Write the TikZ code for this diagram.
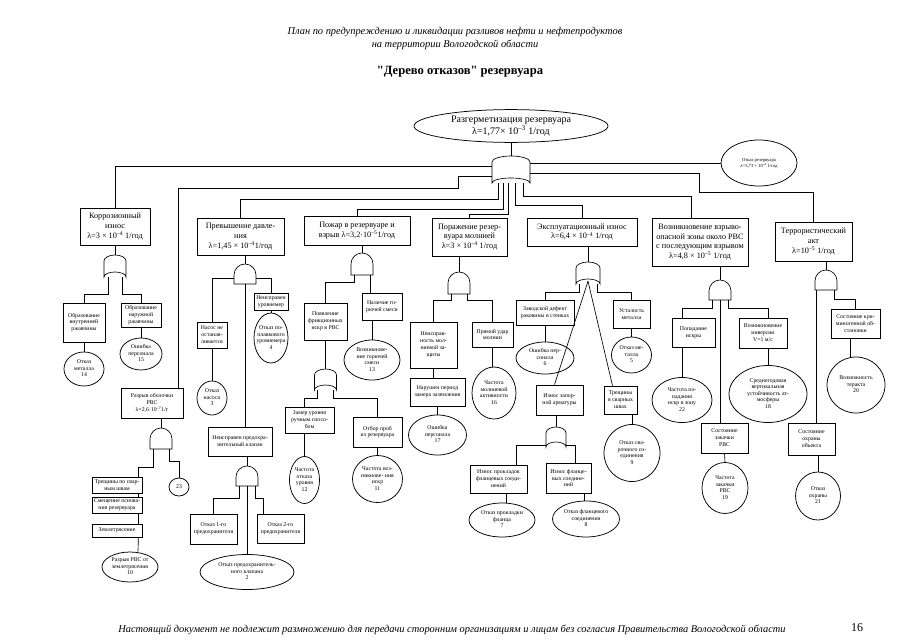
\documentclass[tikz,border=0pt]{standalone}
\usepackage{fontspec}
\setmainfont{Liberation Serif}
\newfontfamily\qfont{Liberation Serif}[Ligatures=TeXOff]
\usetikzlibrary{shapes.geometric}
\newcommand\et[1]{\makebox[0pt]{\begin{tabular}{@{}c@{}}#1\end{tabular}}}
\newcommand\sps[1]{\textsuperscript{#1}}
% AND gate: name, cx, top, half width, height
\newcommand\andg[5]{%
  \node[inner sep=0pt,minimum width=2*#4,minimum height=#5] (#1) at (#2,#3+#5/2) {};
  \draw[ln] (#2-#4,#3+#5) -- (#2-#4,#3+#4) arc[start angle=180,end angle=360,radius=#4] -- (#2+#4,#3+#5) -- cycle;}
% OR gate: name, cx, top, half width, height
\newcommand\org[5]{%
  \node[inner sep=0pt,minimum width=2*#4,minimum height=#5] (#1) at (#2,#3+#5/2) {};
  \draw[ln] (#2-#4,#3+#5) -- (#2-#4,#3+6) arc[start angle=180,end angle=360,x radius=#4,y radius=6] -- (#2+#4,#3+#5) arc[start angle=0,end angle=-180,x radius=#4,y radius=5] -- cycle;}
\tikzset{
  ln/.style={line width=0.65pt},
  bx/.style={draw, line width=0.75pt, inner sep=0.5pt, align=center, font=\fontsize{5.8}{6.9}\selectfont},
  mb/.style={bx, font=\fontsize{8.2}{9.8}\selectfont},
  ev/.style={draw, ellipse, line width=0.75pt, inner sep=0pt, font=\fontsize{5.8}{6.6}\selectfont},
}
\begin{document}
\begin{tikzpicture}[x=1pt,y=-1pt]
\fill[white] (0,0) rectangle (905,640);
\useasboundingbox (0,0) rectangle (905,640);

% header and footer
\node[font=\fontsize{10.4}{12}\selectfont\itshape] (h1) at (455,32) {План по предупреждению и ликвидации разливов нефти и нефтепродуктов};
\node[font=\fontsize{10.4}{12}\selectfont\itshape] (h2) at (455,45) {на территории Вологодской области};
\node[font=\fontsize{12.6}{14}\selectfont\qfont\bfseries] (ttl) at (460,72) {"Дерево отказов" резервуара};
\node[font=\fontsize{10.4}{12}\selectfont\itshape] (foot) at (452,630) {Настоящий документ не подлежит размножению для передачи сторонним организациям и лицам без согласия Правительства Вологодской области};
\node[font=\fontsize{12}{14}\selectfont] (pg) at (857,628) {16};

% top
\node[ev, minimum width=194, minimum height=32, font=\fontsize{10}{11.5}\selectfont] (top) at (511,126) {\et{Разгерметизация резервуара\\λ=1,77× 10\sps{–3} 1/год}};
\node[ev, minimum width=76, minimum height=46, font=\fontsize{4.6}{5.6}\selectfont] (otk) at (759,163) {\et{Отказ резервуара\\λ=5,73 × 10\sps{–4} 1/год}};
\org{gT}{511}{156}{19}{27}
\draw[ln] (top.south) -- (gT.north);

% main boxes
\node[mb, minimum width=70, minimum height=37] (corr) at (115,226.5) {Коррозионный\\износ\\λ=3 × 10\sps{–4} 1/год};
\node[mb, minimum width=87, minimum height=37] (prev) at (240.5,236.5) {Превышение давле-\\ния\\λ=1,45 × 10\sps{–4}1/год};
\node[mb, minimum width=106, minimum height=29] (pozh) at (357,230.5) {Пожар в резервуаре и\\взрыв λ=3,2·10\sps{–5}1/год};
\node[mb, minimum width=75, minimum height=38] (porazh) at (469.5,237) {Поражение резер-\\вуара молнией\\λ=3 × 10\sps{–4} 1/год};
\node[mb, minimum width=110, minimum height=28] (ekspl) at (582,232) {Эксплуатационный износ\\λ=6,4 × 10\sps{–4} 1/год};
\node[mb, minimum width=96, minimum height=48, font=\fontsize{8.2}{9.6}\selectfont] (vozn) at (700,242) {Возникновение взрыво-\\опасной зоны около РВС\\с последующим взрывом\\λ=4,8 × 10\sps{–5} 1/год};
\node[mb, minimum width=77, minimum height=39] (terr) at (813.5,241.5) {Террористический\\акт\\λ=10\sps{–5} 1/год};
\node[bx, minimum width=62, minimum height=30] (razr) at (152,403) {Разрыв оболочки\\РВС\\λ=2,6·10\sps{–7}1/г};

\draw[ln] ([yshift=3.5]gT.west) -| (corr.north);
\draw[ln] ([yshift=-6.5]gT.west) -| (458,188) -| ([xshift=-5]razr.north east);
\draw[ln] ([xshift=-13]gT.south) -- ++(0,16) -| (prev.north);
\draw[ln] ([xshift=-8]gT.south) -- ++(0,26) -| (pozh.north);
\draw[ln] ([xshift=-3]gT.south) -- ++(0,31) -| (porazh.north);
\draw[ln] ([xshift=4]gT.south) -- ++(0,22) -| (ekspl.north);
\draw[ln] ([xshift=12]gT.south) -- ++(0,13) -| ([xshift=-9]vozn.north);
\draw[ln] ([yshift=-3.5]gT.east) -| (699,192) -| (terr.north);
\draw[ln] (gT.east |- otk.west) -- (otk.west);

% Коррозионный
\org{gC}{115}{255}{11}{22}
\draw[ln] (corr.south) -- (gC.north);
\node[bx, minimum width=42, minimum height=39] (vnut) at (84,322.5) {Образование\\внутренней\\ржавчины};
\node[bx, minimum width=40, minimum height=24] (nar) at (141,315) {Образование\\наружной\\ржавчины};
\node[ev, minimum width=40, minimum height=34] (e14) at (84,369) {\et{Отказ\\металла\\14}};
\node[ev, minimum width=42, minimum height=32] (e15) at (141,354) {\et{Ошибка\\персонала\\15}};
\draw[ln] ([xshift=-7]gC.south) -- ++(0,17) -| (vnut.north);
\draw[ln] ([xshift=7]gC.south) -- ++(0,17) -| (nar.north);
\draw[ln] (vnut.south) -- (e14.north);
\draw[ln] (nar.south) -- (e15.north);

% Разрыв оболочки
\andg{gR}{161}{428}{11}{21}
\draw[ln] (gR.north |- razr.south) -- (gR.north);
\node[bx, minimum width=50, minimum height=16] (tresh) at (117,485) {Трещины по свар-\\ным швам};
\node[bx, minimum width=50, minimum height=16] (smesh) at (117,505) {Смещение основа-\\ния резервуара};
\node[bx, minimum width=50, minimum height=13] (zeml) at (117,530.5) {Землетрясение};
\node[ev, minimum width=20, minimum height=18] (e23) at (179,487) {\et{23}};
\node[ev, minimum width=56, minimum height=30] (e10) at (130,567) {\et{Разрыв РВС от\\землетрясения\\10}};
\draw[ln] ([xshift=-8]gR.south) -- ++(0,18) -| ([xshift=-4]tresh.north east);
\draw[ln] ([xshift=8]gR.south) -- ++(0,12) -| (e23.north);
\draw[ln] ([xshift=-4]tresh.south east) -- ([xshift=-4]smesh.north east);
\draw[ln] ([xshift=-4]smesh.south east) -- ([xshift=-4]zeml.north east);
\draw[ln] ([xshift=-4]zeml.south east) -- ([xshift=8]e10.north);

% Превышение давления
\andg{gP}{245}{264}{11}{20}
\draw[ln] (gP.north |- prev.south) -- (gP.north);
\node[bx, minimum width=30, minimum height=26] (nasos) at (212,335) {Насос не\\останав-\\ливается};
\node[ev, minimum width=30, minimum height=34] (e3) at (212,398) {\et{Отказ\\насоса\\3}};
\node[bx, minimum width=34, minimum height=17] (urov) at (271,301.5) {Неисправен\\уровнемер};
\node[ev, minimum width=34, minimum height=50] (e4) at (271,338) {\et{Отказ по-\\плавкового\\уровнемера\\4}};
\node[bx, minimum width=64, minimum height=29] (klap) at (240,441.5) {Неисправен предохра-\\нительный клапан};
\draw[ln] ([yshift=-4]gP.west) -| (nasos.north);
\draw[ln] ([yshift=-4]gP.east) -| (urov.north);
\draw[ln] (gP.south) -- (gP.south |- klap.north);
\draw[ln] (nasos.south) -- (e3.north);
\draw[ln] (urov.south) -- (e4.north);
\andg{gK}{247}{466}{11}{20}
\draw[ln] (gK.north |- klap.south) -- (gK.north);
\node[bx, minimum width=47, minimum height=30] (pr1) at (213.5,529) {Отказ 1-го\\предохранителя};
\node[bx, minimum width=47, minimum height=29] (pr2) at (280.5,528.5) {Отказ 2-го\\предохранителя};
\node[ev, minimum width=94, minimum height=35] (e2) at (247,572) {\et{Отказ предохранитель-\\ного клапана\\2}};
\draw[ln] ([xshift=-8]gK.south) -- ++(0,12) -| (pr1.north);
\draw[ln] ([xshift=8]gK.south) -- ++(0,12) -| ([xshift=-17]pr2.north);
\draw[ln] (gK.south) -- (e2.north);

% Пожар
\andg{gF}{362}{253}{11}{22}
\draw[ln] (gF.north |- pozh.south) -- (gF.north);
\node[bx, minimum width=43, minimum height=37] (fric) at (325.5,321.5) {Появление\\фрикционных\\искр в РВС};
\node[bx, minimum width=40, minimum height=27] (nalich) at (382,306.5) {Наличие го-\\рючей смеси};
\node[ev, minimum width=56, minimum height=40] (e13) at (372,360) {\et{Возникнове-\\ние горючей\\смеси\\13}};
\draw[ln] ([xshift=-8]gF.south) -- ++(0,7) -| (fric.north);
\draw[ln] ([xshift=8]gF.south) -- ++(0,18);
\draw[ln] ([xshift=-10]nalich.south) -- (e13.north);
\org{gO}{325.5}{369}{11}{21}
\draw[ln] (fric.south) -- (gO.north);
\node[bx, minimum width=49, minimum height=26] (zamer) at (309.5,420) {Замер уровня\\ручным спосо-\\бом};
\node[ev, minimum width=30, minimum height=47] (e12) at (304.5,480) {\et{Частота\\отказа\\уровня\\12}};
\node[bx, minimum width=49, minimum height=30] (otbor) at (377.5,432) {Отбор проб\\из резервуара};
\node[ev, minimum width=50, minimum height=47] (e11) at (377.5,479) {\et{Частота воз-\\никнове- ния\\искр\\11}};
\draw[ln] ([xshift=-8]gO.south) -- ++(0,8) -| ([xshift=-5]zamer.north);
\draw[ln] ([xshift=8]gO.south) -- ++(0,8) -| (otbor.north);
\draw[ln] ([xshift=-5]zamer.south) -- (e12.north);
\draw[ln] (otbor.south) -- (e11.north);

% Поражение молнией
\andg{gL}{459}{272}{11}{22}
\draw[ln] (gL.north |- porazh.south) -- (gL.north);
\node[bx, minimum width=47, minimum height=46] (neispr) at (433.5,345) {Неисправ-\\ность мол-\\ниевой за-\\щиты};
\node[bx, minimum width=55, minimum height=28] (narush) at (437.5,392) {Нарушен период\\замера заземления};
\node[ev, minimum width=58, minimum height=40] (e17) at (437.5,435) {\et{Ошибка\\персонала\\17}};
\node[bx, minimum width=41, minimum height=25] (udar) at (492.5,334.5) {Прямой удар\\молнии};
\node[ev, minimum width=44, minimum height=52] (e16) at (494,393) {\et{Частота\\молниевой\\активности\\16}};
\draw[ln] ([xshift=-8]gL.south) -- ++(0,6) -| (neispr.north);
\draw[ln] ([xshift=8]gL.south) -- ++(0,6) -| (udar.north);
\draw[ln] (neispr.south) -- (neispr.south |- narush.north);
\draw[ln] (narush.south) -- (e17.north);
\draw[ln] (udar.south) -- (udar.south |- e16.north);

% Эксплуатационный износ
\org{gE}{588}{262}{12}{22}
\draw[ln] (gE.north |- ekspl.south) -- (gE.north);
\node[bx, minimum width=58, minimum height=25] (zavod) at (545,312.5) {Заводской дефект\\раковины в стенках};
\node[ev, minimum width=58, minimum height=32] (e6) at (545,358) {\et{Ошибка пер-\\сонала\\6}};
\node[bx, minimum width=37, minimum height=28] (ustal) at (631.5,314) {Усталость\\металла};
\node[ev, minimum width=40, minimum height=36] (e5) at (631.5,355) {\et{Отказ ме-\\талла\\5}};
\node[bx, minimum width=47, minimum height=30] (iznos) at (559.5,400) {Износ запор-\\ной арматуры};
\node[bx, minimum width=33, minimum height=28] (treshE) at (620.5,400) {Трещины\\в сварных\\швах};
\node[ev, minimum width=56, minimum height=57] (e9) at (632,453) {\et{Отказ сва-\\рочного со-\\единения\\9}};
\draw[ln] ([xshift=-9]gE.south) -- ++(0,8) -| (zavod.north);
\draw[ln] ([xshift=9]gE.south) -- ++(0,8) -| (ustal.north);
\draw[ln] ([yshift=3]gE.south) -- ([xshift=-5]iznos.north);
\draw[ln] ([yshift=3]gE.south) -- ([xshift=-8]treshE.north);
\draw[ln] (zavod.south) -- (e6.north);
\draw[ln] (ustal.south) -- (e5.north);
\draw[ln] (e9.north |- treshE.south) -- (e9.north);
\org{gI}{556}{427}{10}{20}
\draw[ln] (gI.north |- iznos.south) -- (gI.north);
\node[bx, minimum width=57, minimum height=28] (prok) at (498.5,479) {Износ прокладок\\фланцевых соеди-\\нений};
\node[bx, minimum width=45, minimum height=30] (flan) at (568.5,478) {Износ фланце-\\вых соедине-\\ний};
\node[ev, minimum width=66, minimum height=34] (e7) at (502,520) {\et{Отказ прокладки\\фланца\\7}};
\node[ev, minimum width=67, minimum height=36] (e8) at (586,519) {\et{Отказ фланцевого\\соединения\\8}};
\draw[ln] ([yshift=-8]gI.west) -| ([xshift=18]prok.north);
\draw[ln] ([yshift=-8]gI.east) -| ([xshift=6.5]flan.north);
\draw[ln] ([xshift=8]prok.south) -- ++(0,10);
\draw[ln] ([xshift=16]flan.south) -- ++(0,8);

% Возникновение взрывоопасной зоны
\andg{gV}{720}{280}{11}{20}
\draw[ln] (gV.north |- vozn.south) -- (gV.north);
\node[bx, minimum width=43, minimum height=29] (popad) at (693.5,332.5) {Попадание\\искры};
\node[ev, minimum width=60, minimum height=45] (e22) at (682,400) {\et{Частота по-\\падания\\искр в зону\\22}};
\node[bx, minimum width=48, minimum height=30] (inv) at (763,333) {Возникновение\\инверсии\\V=1 м/с};
\node[ev, minimum width=78, minimum height=57] (e18) at (768,394) {\et{Среднегодовая\\вертикальная\\устойчивость ат-\\мосферы\\18}};
\node[bx, minimum width=47, minimum height=30] (zash) at (724.5,438) {Состояние\\закачки\\РВС};
\node[ev, minimum width=46, minimum height=51] (e19) at (725,488) {\et{Частота\\закачки\\РВС\\19}};
\draw[ln] ([xshift=-8]gV.south) -- ++(0,8) -| ([xshift=-11.5]popad.north);
\draw[ln] ([xshift=8]gV.south) -- ++(0,8) -| ([xshift=5]inv.north);
\draw[ln] (gV.south) -- (gV.south |- zash.north);
\draw[ln] (e22.north |- popad.south) -- (e22.north);
\draw[ln] (e18.north |- inv.south) -- (e18.north);
\draw[ln] (zash.south) -- (e19.north);

% Террористический акт
\andg{gTe}{826}{270}{11}{20}
\draw[ln] (gTe.north |- terr.south) -- (gTe.north);
\node[bx, minimum width=49, minimum height=29] (krim) at (855.5,323.5) {Состояние кри-\\миногенной об-\\становки};
\node[ev, minimum width=58, minimum height=56] (e20) at (856,385) {\et{Возможность\\теракта\\20}};
\node[bx, minimum width=47, minimum height=32] (ohr) at (811.5,439) {Состояние\\охраны\\объекта};
\node[ev, minimum width=45, minimum height=48] (e21) at (818,496) {\et{Отказ\\охраны\\21}};
\draw[ln] ([xshift=2]gTe.south west) -- ++(0,133);
\draw[ln] ([xshift=8]gTe.south) -- ++(0,9) -| (krim.north);
\draw[ln] ([xshift=-5]krim.south) -- ++(0,19);
\draw[ln] (e21.north |- ohr.south) -- (e21.north);
\end{tikzpicture}
\end{document}
